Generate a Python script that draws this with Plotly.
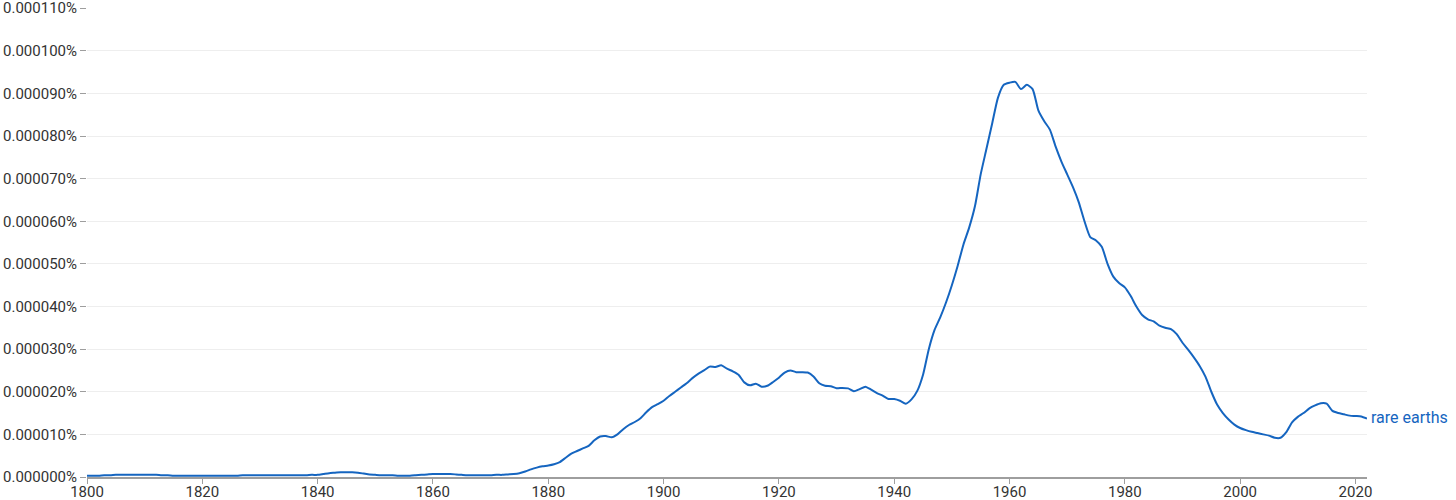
import plotly.graph_objects as go

# yearly frequency of "rare earths", in percent
years = list(range(1800, 2023))
freq = [
    3e-7, 3e-7, 3e-7, 4e-7, 4e-7, 5e-7, 5e-7, 5e-7, 5e-7, 5e-7,          # 1800s
    5e-7, 5e-7, 5e-7, 4e-7, 4e-7, 3e-7, 3e-7, 3e-7, 3e-7, 3e-7,          # 1810s
    3e-7, 3e-7, 3e-7, 3e-7, 3e-7, 3e-7, 3e-7, 4e-7, 4e-7, 4e-7,          # 1820s
    4e-7, 4e-7, 4e-7, 4e-7, 4e-7, 4e-7, 4e-7, 4e-7, 4e-7, 5e-7,          # 1830s
    5e-7, 7e-7, 9e-7, 1.0e-6, 1.1e-6, 1.1e-6, 1.1e-6, 1.0e-6, 8e-7, 6e-7,  # 1840s
    5e-7, 4e-7, 4e-7, 4e-7, 3e-7, 3e-7, 3e-7, 4e-7, 5e-7, 6e-7,          # 1850s
    7e-7, 7e-7, 7e-7, 7e-7, 6e-7, 5e-7, 4e-7, 4e-7, 4e-7, 4e-7,          # 1860s
    4e-7, 5e-7, 5e-7, 6e-7, 7e-7, 9e-7, 1.3e-6, 1.8e-6, 2.2e-6, 2.5e-6,  # 1870s
    2.7e-6, 3.0e-6, 3.5e-6, 4.5e-6, 5.5e-6, 6.1e-6, 6.7e-6, 7.3e-6, 8.6e-6, 9.5e-6,  # 1880s
    9.6e-6, 9.3e-6, 1.00e-5, 1.12e-5, 1.22e-5, 1.29e-5, 1.38e-5, 1.52e-5, 1.64e-5, 1.71e-5,  # 1890s
    1.79e-5, 1.90e-5, 2.00e-5, 2.10e-5, 2.20e-5, 2.32e-5, 2.42e-5, 2.50e-5, 2.59e-5, 2.58e-5,  # 1900s
    2.62e-5, 2.54e-5, 2.48e-5, 2.40e-5, 2.22e-5, 2.15e-5, 2.19e-5, 2.12e-5, 2.14e-5, 2.23e-5,  # 1910s
    2.33e-5, 2.45e-5, 2.50e-5, 2.46e-5, 2.46e-5, 2.45e-5, 2.36e-5, 2.20e-5, 2.14e-5, 2.13e-5,  # 1920s
    2.08e-5, 2.09e-5, 2.08e-5, 2.01e-5, 2.06e-5, 2.12e-5, 2.05e-5, 1.97e-5, 1.91e-5, 1.83e-5,  # 1930s
    1.83e-5, 1.79e-5, 1.72e-5, 1.82e-5, 2.02e-5, 2.40e-5, 3.00e-5, 3.45e-5, 3.75e-5, 4.10e-5,  # 1940s
    4.50e-5, 4.95e-5, 5.45e-5, 5.85e-5, 6.35e-5, 7.10e-5, 7.70e-5, 8.30e-5, 8.90e-5, 9.20e-5,  # 1950s
    9.25e-5, 9.27e-5, 9.10e-5, 9.20e-5, 9.10e-5, 8.60e-5, 8.35e-5, 8.15e-5, 7.75e-5, 7.40e-5,  # 1960s
    7.10e-5, 6.80e-5, 6.45e-5, 6.00e-5, 5.63e-5, 5.55e-5, 5.40e-5, 5.00e-5, 4.70e-5, 4.55e-5,  # 1970s
    4.45e-5, 4.25e-5, 4.00e-5, 3.80e-5, 3.70e-5, 3.65e-5, 3.55e-5, 3.50e-5, 3.47e-5, 3.35e-5,  # 1980s
    3.15e-5, 2.98e-5, 2.80e-5, 2.60e-5, 2.35e-5, 2.00e-5, 1.70e-5, 1.50e-5, 1.35e-5, 1.23e-5,  # 1990s
    1.15e-5, 1.10e-5, 1.06e-5, 1.03e-5, 1.00e-5, 9.7e-6, 9.2e-6, 9.2e-6, 1.05e-5, 1.28e-5,  # 2000s
    1.41e-5, 1.50e-5, 1.61e-5, 1.68e-5, 1.73e-5, 1.72e-5, 1.55e-5, 1.50e-5, 1.47e-5, 1.44e-5,  # 2010s
    1.43e-5, 1.42e-5, 1.37e-5,                                            # 2020s
]
label = "rare earths"

y_ticks = [0, 1e-5, 2e-5, 3e-5, 4e-5, 5e-5, 6e-5, 7e-5, 8e-5, 9e-5, 1.0e-4, 1.1e-4]
y_tick_text = ["0.000000%", "0.000010%", "0.000020%", "0.000030%", "0.000040%",
               "0.000050%", "0.000060%", "0.000070%", "0.000080%", "0.000090%",
               "0.000100%", "0.000110%"]
x_ticks = [1800, 1820, 1840, 1860, 1880, 1900, 1920, 1940, 1960, 1980, 2000, 2020]

blue = "#1565c0"

fig = go.Figure()
fig.add_trace(go.Scatter(
    x=years, y=freq, mode="lines", name=label,
    line=dict(color=blue, width=2, shape="spline", smoothing=0.6),
    hoverinfo="x+y",
))

# series label at the end of the line
fig.add_annotation(
    x=years[-1], y=freq[-1], text=label, showarrow=False,
    xanchor="left", yanchor="middle", xshift=2, yshift=1,
    font=dict(family="Roboto", size=16, color=blue),
)

fig.update_layout(
    width=1456, height=500,
    margin=dict(l=87, r=89, t=8, b=23),
    plot_bgcolor="white", paper_bgcolor="white",
    showlegend=False,
    font=dict(family="Roboto", size=15, color="#333333"),
)
fig.update_xaxes(
    range=[1800, 2022], tickvals=x_ticks, automargin=False,
    showgrid=False, zeroline=False,
    showline=True, linecolor="#9e9e9e", linewidth=1.5,
    ticks="outside", ticklen=5, tickcolor="#9e9e9e",
    tickfont=dict(size=15), ticklabelstandoff=-5, ticklabeloverflow="allow",
)
fig.update_yaxes(
    range=[0, 1.1003e-4], tickvals=y_ticks, ticktext=y_tick_text, automargin=False,
    showgrid=True, gridcolor="#eeeeee", zeroline=False,
    showline=False,
    ticks="outside", ticklen=6, tickcolor="#9e9e9e",
    tickfont=dict(size=15), ticklabeloverflow="allow",
)

# drop the default page margin so the figure sits at the window's corner
fig.write_html("out.html", config={"displayModeBar": False},
               post_script="document.body.style.margin='0';")
